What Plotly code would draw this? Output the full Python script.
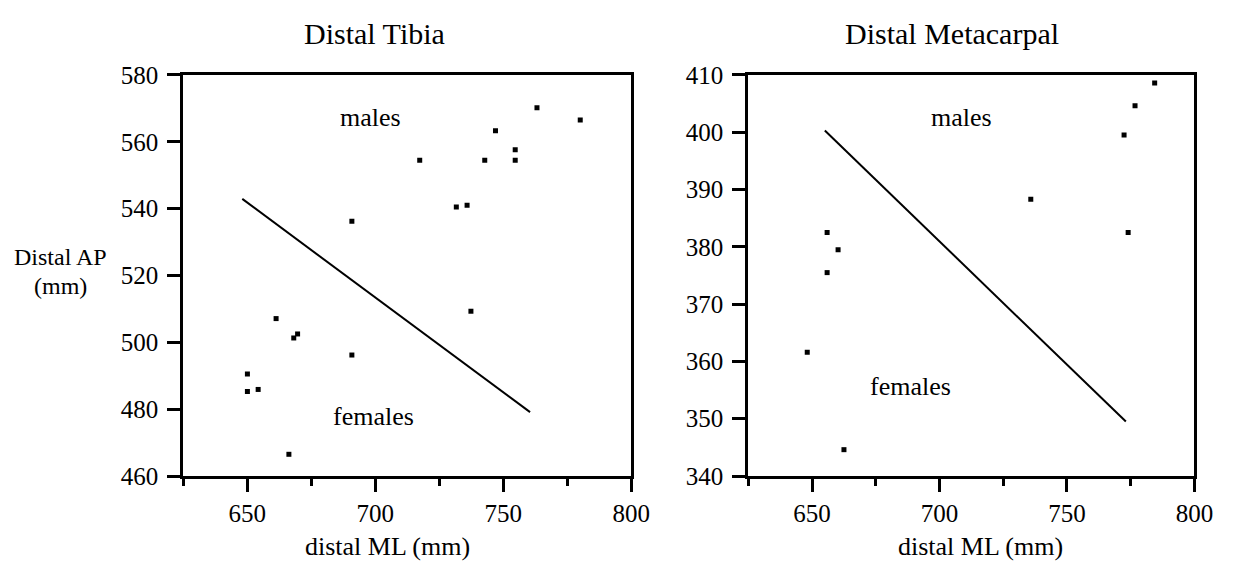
import plotly.graph_objects as go

# ---- data ----
tibia_ml = [763.2, 780.1, 747.0, 754.7, 754.7, 742.8, 717.4, 731.7, 735.9, 690.9,
            737.4, 661.3, 669.7, 668.2, 690.9, 650.1, 654.3, 650.1, 666.3]
tibia_ap = [570.2, 566.5, 563.3, 557.6, 554.5, 554.5, 554.5, 540.5, 541.0, 536.2,
            509.3, 507.1, 502.5, 501.3, 496.2, 490.5, 485.9, 485.3, 466.5]
tibia_line_ml = [648.1, 760.5]
tibia_line_ap = [542.9, 479.1]

meta_ml = [784.4, 776.7, 772.4, 735.8, 774.0, 655.9, 660.2, 655.9, 648.1, 662.5]
meta_ap = [408.6, 404.6, 399.5, 388.3, 382.5, 382.5, 379.5, 375.5, 361.6, 344.6]
meta_line_ml = [655.0, 773.1]
meta_line_ap = [400.3, 349.5]

panel_titles = ["Distal Tibia", "Distal Metacarpal"]
x_title = "distal ML (mm)"
y_title_lines = ["Distal AP", "(mm)"]
group_labels = ["males", "females"]
tibia_label_pos = [(698.0, 567.3), (699.3, 477.8)]
meta_label_pos = [(708.6, 402.6), (688.6, 355.7)]

x_range = [625, 800]
tibia_range = [460, 580]
meta_range = [340, 410]

# ---- layout helpers ----
W, H = 1241, 571
FONT = "Liberation Serif, Times New Roman, serif"


def px(x):
    return x / W


def py(y):
    return 1 - y / H


fig = go.Figure()

fig.add_trace(go.Scatter(x=tibia_ml, y=tibia_ap, mode="markers",
                         marker=dict(symbol="square", size=5, color="black"),
                         xaxis="x", yaxis="y", showlegend=False))
fig.add_trace(go.Scatter(x=tibia_line_ml, y=tibia_line_ap, mode="lines",
                         line=dict(color="black", width=2),
                         xaxis="x", yaxis="y", showlegend=False))
fig.add_trace(go.Scatter(x=meta_ml, y=meta_ap, mode="markers",
                         marker=dict(symbol="square", size=5, color="black"),
                         xaxis="x2", yaxis="y2", showlegend=False))
fig.add_trace(go.Scatter(x=meta_line_ml, y=meta_line_ap, mode="lines",
                         line=dict(color="black", width=2),
                         xaxis="x2", yaxis="y2", showlegend=False))

ydom = [py(486), py(65)]

common_x = dict(range=x_range, dtick=50, tick0=650, ticks="outside", ticklen=13,
                tickwidth=3, tickcolor="black", showline=True, linewidth=3,
                linecolor="black", mirror=True, showgrid=False, zeroline=False,
                tickfont=dict(family=FONT, size=25, color="black"),
                minor=dict(dtick=25, tick0=625, ticks="outside", ticklen=7,
                           tickwidth=3, tickcolor="black", showgrid=False),
                ticklabelstandoff=0)
common_y = dict(ticks="outside", ticklen=13, tickwidth=3, tickcolor="black",
                showline=True, linewidth=3, linecolor="black", mirror=True,
                showgrid=False, zeroline=False,
                tickfont=dict(family=FONT, size=25, color="black"),
                ticklabelstandoff=4)

fig.update_layout(
    width=W, height=H,
    margin=dict(l=0, r=0, t=0, b=0),
    paper_bgcolor="white", plot_bgcolor="white",
    xaxis=dict(domain=[px(186), px(641)], anchor="y", **common_x),
    yaxis=dict(domain=ydom, anchor="x", range=tibia_range, dtick=20, **common_y),
    xaxis2=dict(domain=[px(760), px(1213)], anchor="y2", **common_x),
    yaxis2=dict(domain=ydom, anchor="x2", range=meta_range, dtick=10, **common_y),
    font=dict(family=FONT, color="black"),
)

ann = []
# panel titles
ann.append(dict(text=panel_titles[0], x=px(380), y=py(22), xref="paper", yref="paper",
                showarrow=False, xanchor="center", yanchor="middle",
                font=dict(family=FONT, size=30, color="black")))
ann.append(dict(text=panel_titles[1], x=px(967), y=py(22), xref="paper", yref="paper",
                showarrow=False, xanchor="center", yanchor="middle",
                font=dict(family=FONT, size=30, color="black")))
# x-axis titles
for cx in (394, 996):
    ann.append(dict(text=x_title, x=px(cx), y=py(560), xref="paper", yref="paper",
                    showarrow=False, xanchor="center", yanchor="middle",
                    font=dict(family=FONT, size=26, color="black")))
# y-axis title (two lines, tight spacing)
for line, cy in zip(y_title_lines, (256, 287)):
    ann.append(dict(text=line, x=px(61), y=py(cy), xref="paper", yref="paper",
                    showarrow=False, xanchor="center", yanchor="middle",
                    borderpad=0,
                    font=dict(family=FONT, size=24, color="black")))
# group labels
for (lx, ly), t in zip(tibia_label_pos, group_labels):
    ann.append(dict(text=t, x=lx, y=ly, xref="x", yref="y", showarrow=False,
                    xanchor="center", yanchor="middle",
                    font=dict(family=FONT, size=26, color="black")))
for (lx, ly), t in zip(meta_label_pos, group_labels):
    ann.append(dict(text=t, x=lx, y=ly, xref="x2", yref="y2", showarrow=False,
                    xanchor="center", yanchor="middle",
                    font=dict(family=FONT, size=26, color="black")))

fig.update_layout(annotations=ann)

fig.write_html("out.html")
